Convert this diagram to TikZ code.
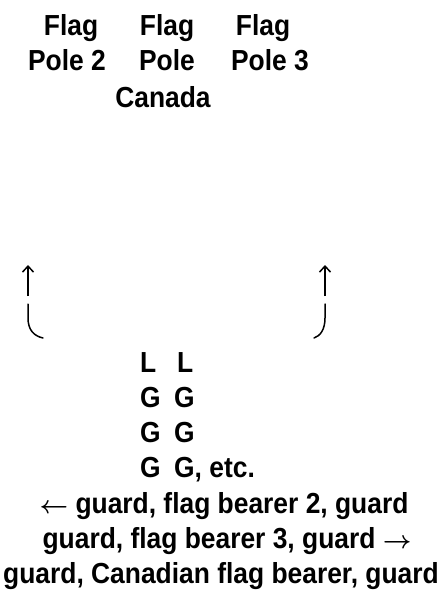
\documentclass[tikz,border=0pt]{standalone}
\usepackage{fontspec}
\setmainfont{Liberation Sans}[FakeStretch=0.91]
\usetikzlibrary{arrows.meta}
\newcommand{\larr}{{\fontsize{23}{23}\selectfont\boldmath$\leftarrow$}}
\newcommand{\rarr}{{\fontsize{23}{23}\selectfont\boldmath$\rightarrow$}}
\begin{document}
\begin{tikzpicture}[x=1pt,y=-1pt,
  lbl/.style={inner sep=0pt, font=\fontsize{29}{34}\selectfont\bfseries},
  col/.style={lbl, anchor=base west},
  ctr/.style={lbl, anchor=base},
  turn/.style={line width=1.5pt, line cap=round},
  up/.style={line width=1.5pt, -{Straight Barb[length=6pt,width=11pt,line width=1.5pt]}}]
\useasboundingbox (0,0) rectangle (442,599);
% flag poles
\node[ctr] (f2a) at (71,36) {Flag};
\node[ctr] (f2b) at (67,71) {Pole 2};
\node[ctr] (fca) at (167,36) {Flag};
\node[ctr] (fcb) at (167,71) {Pole};
\node[ctr] (fcc) at (163,107) {Canada};
\node[ctr] (f3a) at (263,36) {Flag};
\node[ctr] (f3b) at (270,71) {Pole 3};
% turning paths
\coordinate (la) at (28,296);
\coordinate (lt) at (28,265);
\coordinate (ls) at (28,304);
\coordinate (le) at (43,338);
\coordinate (ra) at (325,296);
\coordinate (rt) at (325,265);
\coordinate (rs) at (325,304);
\coordinate (re) at (314,338);
\draw[up] (la) -- (lt);
\draw[up] (ra) -- (rt);
\draw[turn] (ls) -- (28,318) .. controls (28,330) and (34,336) .. (le);
\draw[turn] (rs) -- (325,318) .. controls (325,330) and (320,336) .. (re);
% columns
\node[col] (r1) at (140,372) {\makebox[37pt][l]{L}L};
\node[col] (r2) at (140,407) {\makebox[34pt][l]{G}G};
\node[col] (r3) at (140,442) {\makebox[34pt][l]{G}G};
\node[col] (r4) at (140,477) {\makebox[34pt][l]{G}G, etc.};
\node[ctr] (r5) at (224,513) {\larr\ guard, flag bearer 2, guard};
\node[ctr] (r6) at (227,548) {guard, flag bearer 3, guard \rarr};
\node[ctr] (r7) at (221,583) {guard, Canadian flag bearer, guard};
\end{tikzpicture}
\end{document}
